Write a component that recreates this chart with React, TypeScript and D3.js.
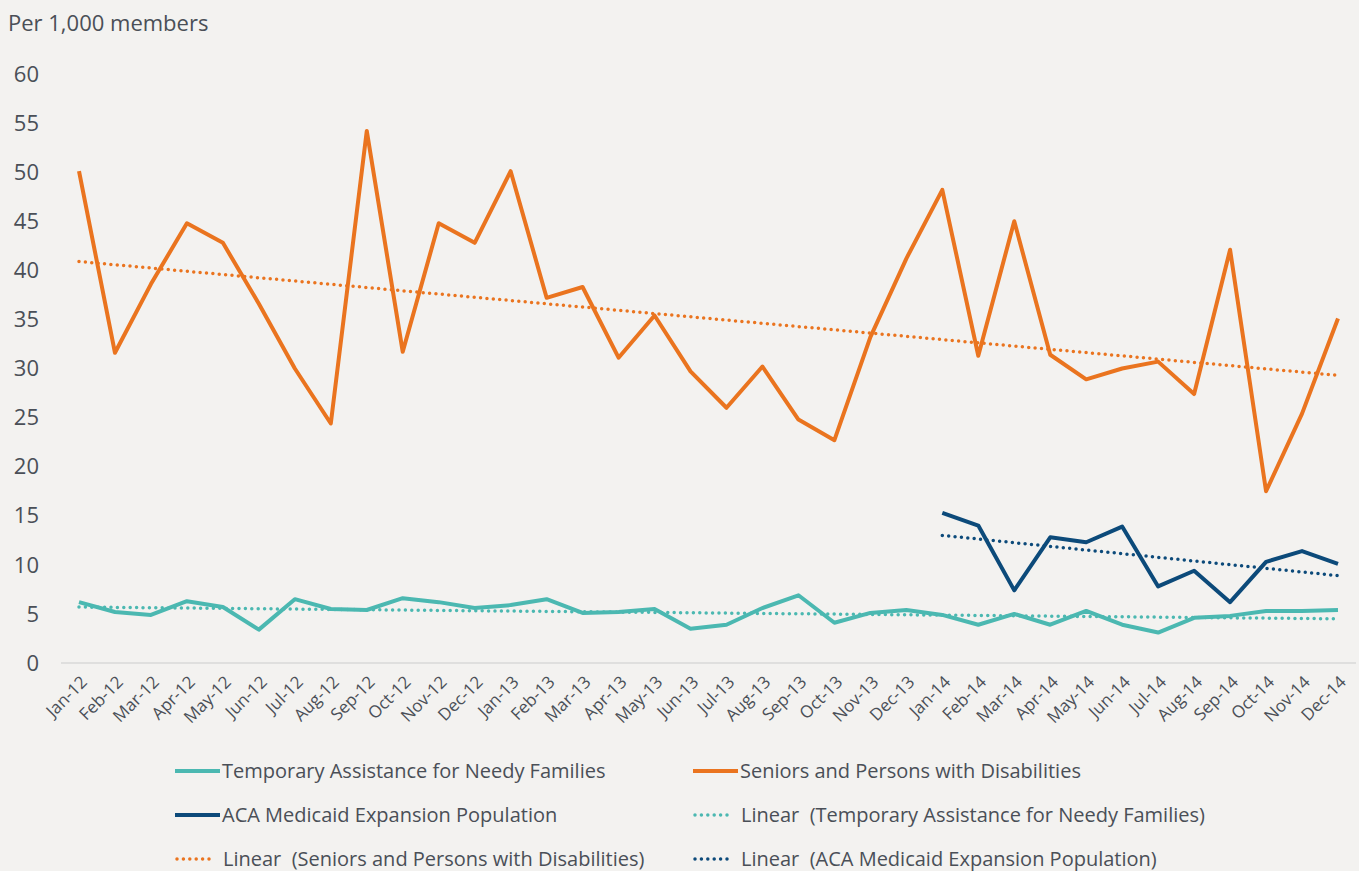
import React, { useRef, useEffect } from 'react';
import * as d3 from 'd3';

// months on the x axis
const months = [
  'Jan-12', 'Feb-12', 'Mar-12', 'Apr-12', 'May-12', 'Jun-12', 'Jul-12', 'Aug-12', 'Sep-12', 'Oct-12', 'Nov-12', 'Dec-12',
  'Jan-13', 'Feb-13', 'Mar-13', 'Apr-13', 'May-13', 'Jun-13', 'Jul-13', 'Aug-13', 'Sep-13', 'Oct-13', 'Nov-13', 'Dec-13',
  'Jan-14', 'Feb-14', 'Mar-14', 'Apr-14', 'May-14', 'Jun-14', 'Jul-14', 'Aug-14', 'Sep-14', 'Oct-14', 'Nov-14', 'Dec-14',
];

const tanf = [
  6.2, 5.2, 4.9, 6.3, 5.7, 3.4, 6.5, 5.5, 5.4, 6.6, 6.2, 5.6,
  5.9, 6.5, 5.1, 5.2, 5.5, 3.5, 3.9, 5.6, 6.9, 4.1, 5.1, 5.4,
  4.9, 3.9, 5.0, 3.9, 5.3, 3.9, 3.1, 4.6, 4.8, 5.3, 5.3, 5.4,
];

const seniors = [
  50.1, 31.6, 38.6, 44.8, 42.8, 36.6, 30.0, 24.4, 54.2, 31.7, 44.8, 42.8,
  50.1, 37.2, 38.3, 31.1, 35.4, 29.7, 26.0, 30.2, 24.8, 22.7, 33.2, 41.2,
  48.2, 31.3, 45.0, 31.4, 28.9, 30.0, 30.7, 27.4, 42.1, 17.5, 25.4, 35.1,
];

// ACA series starts in Jan-14
const acaMonths = months.slice(24);
const aca = [15.3, 14.0, 7.4, 12.8, 12.3, 13.9, 7.8, 9.4, 6.2, 10.3, 11.4, 10.1];

// linear trendline endpoints (start, end)
const tanfTrend = [5.7, 4.5];
const seniorsTrend = [40.9, 29.3];
const acaTrend = [13.0, 8.9];

const yTicks = [0, 5, 10, 15, 20, 25, 30, 35, 40, 45, 50, 55, 60];

const TEAL = '#4BB8B1';
const ORANGE = '#EA741F';
const NAVY = '#0C4A7A';
const TEXT = '#4a4f57';

const legendItems = [
  { label: 'Temporary Assistance for Needy Families', color: TEAL, dotted: false },
  { label: 'Seniors and Persons with Disabilities', color: ORANGE, dotted: false },
  { label: 'ACA Medicaid Expansion Population', color: NAVY, dotted: false },
  { label: 'Linear  (Temporary Assistance for Needy Families)', color: TEAL, dotted: true },
  { label: 'Linear  (Seniors and Persons with Disabilities)', color: ORANGE, dotted: true },
  { label: 'Linear  (ACA Medicaid Expansion Population)', color: NAVY, dotted: true },
];

const App = () => {
  const ref = useRef<SVGSVGElement>(null);

  useEffect(() => {
    const width = 1359;
    const height = 871;
    const font = '"Open Sans", "Noto Sans", sans-serif';

    const svg = d3.select(ref.current);
    svg.selectAll('*').remove();
    svg.attr('width', width).attr('height', height);

    svg.append('rect').attr('width', width).attr('height', height).attr('fill', '#f3f2f0');

    const x = d3.scalePoint<string>().domain(months).range([79, 1338]);
    const y = d3.scaleLinear().domain([0, 60]).range([663, 74]);

    // title
    svg.append('text')
      .attr('x', 8).attr('y', 31)
      .attr('fill', TEXT).attr('font-family', font).attr('font-size', 22)
      .text('Per 1,000 members');

    // y ticks
    svg.append('g').selectAll('text').data(yTicks).enter().append('text')
      .attr('x', 39).attr('y', d => y(d)).attr('dy', '0.35em')
      .attr('text-anchor', 'end')
      .attr('fill', TEXT).attr('font-family', font).attr('font-size', 22)
      .text(d => d);

    // baseline
    svg.append('line')
      .attr('x1', 61).attr('x2', 1356).attr('y1', y(0)).attr('y2', y(0))
      .attr('stroke', '#d9d9d9').attr('stroke-width', 1.5);

    // x labels
    svg.append('g').selectAll('text').data(months).enter().append('text')
      .attr('transform', d => `translate(${(x(d) as number) + 5},${679}) rotate(-45)`)
      .attr('text-anchor', 'end').attr('dy', '0.35em')
      .attr('fill', TEXT).attr('font-family', font).attr('font-size', 17)
      .text(d => d);

    const line = d3.line<[string, number]>()
      .x(d => x(d[0]) as number)
      .y(d => y(d[1]));

    const trend = (ms: string[], ends: number[], color: string) => {
      svg.append('path')
        .attr('d', line([[ms[0], ends[0]], [ms[ms.length - 1], ends[1]]]))
        .attr('fill', 'none').attr('stroke', color)
        .attr('stroke-width', 3.5).attr('stroke-linecap', 'round')
        .attr('stroke-dasharray', '0 6.4');
    };

    const series = (ms: string[], vals: number[], color: string) => {
      svg.append('path')
        .attr('d', line(ms.map((m, i) => [m, vals[i]] as [string, number])))
        .attr('fill', 'none').attr('stroke', color)
        .attr('stroke-width', 4).attr('stroke-linejoin', 'round');
    };

    trend(months, tanfTrend, TEAL);
    trend(months, seniorsTrend, ORANGE);
    trend(acaMonths, acaTrend, NAVY);
    series(months, tanf, TEAL);
    series(months, seniors, ORANGE);
    series(acaMonths, aca, NAVY);

    // legend
    const legend = svg.append('g');
    legendItems.forEach((item, i) => {
      const col = i % 2;
      const row = Math.floor(i / 2);
      const lx = col === 0 ? 175 : 693;
      const ly = 771 + row * 44;
      if (item.dotted) {
        legend.append('line')
          .attr('x1', lx + 2).attr('x2', lx + 38).attr('y1', ly).attr('y2', ly)
          .attr('stroke', item.color).attr('stroke-width', 3.5)
          .attr('stroke-linecap', 'round').attr('stroke-dasharray', '0 6.4');
      } else {
        legend.append('line')
          .attr('x1', lx).attr('x2', lx + 45).attr('y1', ly).attr('y2', ly)
          .attr('stroke', item.color).attr('stroke-width', 4);
      }
      legend.append('text')
        .attr('x', lx + (item.dotted ? 48 : 47)).attr('y', ly).attr('dy', '0.35em')
        .style('white-space', 'pre')
        .attr('fill', TEXT).attr('font-family', font).attr('font-size', 20)
        .text(item.label);
    });
  }, []);

  return <svg ref={ref} style={{ position: 'absolute', left: 0, top: 0, display: 'block' }}></svg>;
};

export default App;
